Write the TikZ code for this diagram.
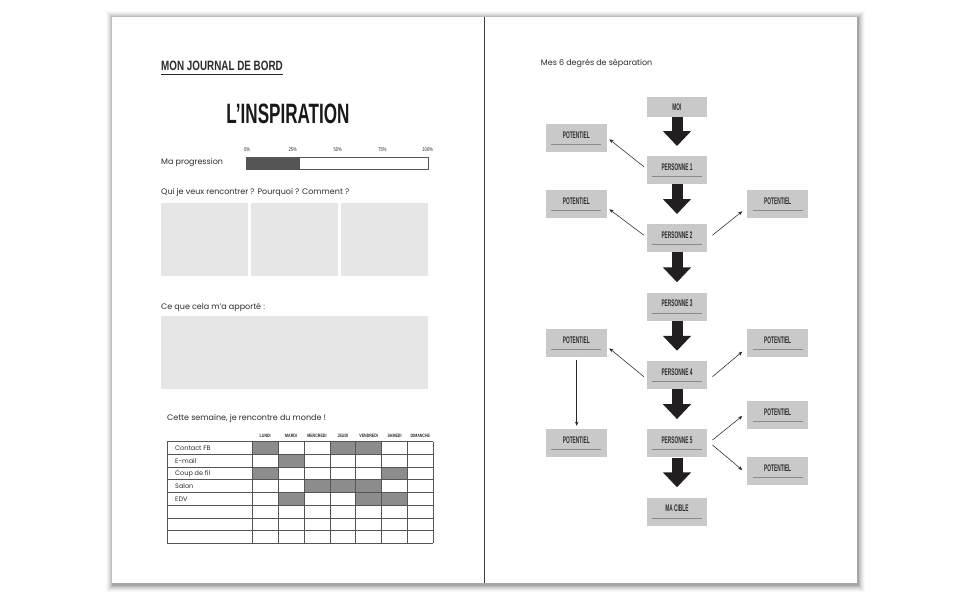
\documentclass[tikz,border=0pt]{standalone}
\usepackage{fontspec}
\setmainfont{Poppins}
\newfontfamily\condTitle[FakeStretch=0.73]{Liberation Sans}
\newfontfamily\condBig[FakeStretch=0.61]{Liberation Sans}
\newfontfamily\condBox[FakeStretch=0.5]{Liberation Sans}
\newfontfamily\condSmall[FakeStretch=0.75]{Liberation Sans}
\usetikzlibrary{arrows.meta,calc}
\definecolor{ink}{HTML}{2B2B2B}
\definecolor{panel}{HTML}{E6E6E6}
\definecolor{boxgray}{HTML}{C9C9C9}
\definecolor{ulgray}{HTML}{8A8A8A}
\definecolor{cellgray}{HTML}{8C8C8C}
\definecolor{linegray}{HTML}{555555}
\definecolor{arrowblack}{HTML}{231F20}
\tikzset{
  body/.style={inner sep=0pt, text=ink, font=\fontsize{8}{9.5}\selectfont},
  pct/.style={inner sep=0pt, text=ink, font=\condSmall\fontsize{5.5}{6}\selectfont},
  dayhead/.style={inner sep=0pt, text=ink, font=\condSmall\bfseries\fontsize{4.8}{5}\selectfont},
  rowlab/.style={inner sep=0pt, text=ink, anchor=west, font=\fontsize{6.5}{7}\selectfont},
  gbox/.style={rectangle, fill=boxgray, minimum width=60.5pt, minimum height=28pt, inner sep=0pt},
  gtext/.style={inner sep=0pt, text=ink, font=\condBox\bfseries\fontsize{9.6}{9.6}\selectfont},
  gline/.style={draw=ulgray, line width=0.9pt},
  bigarrow/.style={draw=arrowblack, line width=11pt, -{Triangle[width=27.4pt,length=15pt]}},
  thinarrow/.style={draw=black!85, line width=0.55pt, -{Stealth[length=4.2pt,width=3.4pt]}},
}
\newcommand\gboxnode[4]{%
  \node[gbox] (#1) at (#2,#3) {};
  \node[gtext] (#1-t) at ($(#1.north)+(0,11.3)$) {#4};
  \draw[gline] ($(#1.north west)+(5.5,20.7)$) -- ($(#1.north east)+(-5.5,20.7)$);
}
\begin{document}
\begin{tikzpicture}[x=1pt,y=-1pt]
\useasboundingbox (0,0) rectangle (970,600);
\fill[white] (0,0) rectangle (970,600);
% page shadow
\foreach \i/\o in {7/0.025,6/0.03,5/0.04,4/0.05,3/0.06,2/0.08,1/0.12} {
  \fill[black,opacity=\o] (112-\i+0.5,17-\i+1) rectangle (857+\i+0.8,583+\i+1.8);
}
\fill[white] (112,17) rectangle (857,583);
\coordinate (divtop) at (484,17);
\coordinate (divbot) at (484,583);
\draw[draw=black!75, line width=1pt] (divtop) -- (divbot);

% ---------------- left page
\node[inner sep=0pt, anchor=base west, text=ink, font=\condTitle\bfseries\fontsize{13.5}{14}\selectfont] (journal) at (161,70.7) {MON JOURNAL DE BORD};
\draw[draw=ink, line width=1.1pt] ($(journal.south west)+(0,3.2)$) -- ($(journal.south east)+(0,3.2)$);
\node[inner sep=0pt, anchor=base, text=black!90, font=\condBig\bfseries\fontsize{28}{30}\selectfont] (insp) at (288,123.3) {L’INSPIRATION};

\node[body, anchor=base west] (prog) at (161,164) {Ma progression};
\node[inner sep=0pt, fill=linegray, minimum width=54pt, minimum height=12.3pt, anchor=north west] (progfill) at (246,156.7) {};
\node[inner sep=0pt, draw=linegray, line width=0.8pt, minimum width=181.7pt, minimum height=12.3pt, anchor=north west] (progbar) at (246,156.7) {};
\foreach \p/\x in {0/247,25/292.7,50/337.7,75/382.4,100/427.7} {
  \node[pct, anchor=base] (pct\p) at (\x,151.2) {\p\%};
}

\node[body, anchor=base west] (qui) at (161,194.7) {Qui je veux rencontrer ? Pourquoi ? Comment ?};
\node[fill=panel, inner sep=0pt, minimum width=86.7pt, minimum height=73pt, anchor=north west] (panA) at (161,202.7) {};
\node[fill=panel, inner sep=0pt, minimum width=86.7pt, minimum height=73pt, anchor=north west] (panB) at (251,202.7) {};
\node[fill=panel, inner sep=0pt, minimum width=87pt, minimum height=73pt, anchor=north west] (panC) at (340.7,202.7) {};

\node[body, anchor=base west] (apport) at (161,309.3) {Ce que cela m’a apporté :};
\node[fill=panel, inner sep=0pt, minimum width=266.7pt, minimum height=73.3pt, anchor=north west] (panD) at (161,315.7) {};

\node[body, anchor=base west] (semaine) at (167,420) {Cette semaine, je rencontre du monde !};

% table
\def\rowtop{441.7}
\def\rowh{12.7}
% filled cells: column index (1..7) / row index (0..4)
\foreach \c/\r in {1/0,4/0,5/0,2/1,1/2,6/2,3/3,4/3,5/3,2/4,5/4,6/4} {
  \fill[cellgray] ({252.3+(\c-1)*25.857},{\rowtop+\r*\rowh}) rectangle ({252.3+\c*25.857},{\rowtop+(\r+1)*\rowh});
}
\foreach \k in {0,...,8} {
  \draw[draw=linegray, line width=0.7pt] (167.3,{\rowtop+\k*\rowh}) -- (433.3,{\rowtop+\k*\rowh});
}
\draw[draw=linegray, line width=0.7pt] (167.3,\rowtop) -- (167.3,{\rowtop+8*\rowh});
\foreach \c in {0,...,7} {
  \draw[draw=linegray, line width=0.7pt] ({252.3+\c*25.857},\rowtop) -- ({252.3+\c*25.857},{\rowtop+8*\rowh});
}
\foreach \d [count=\c] in {LUNDI,MARDI,MERCREDI,JEUDI,VENDREDI,SAMEDI,DIMANCHE} {
  \node[dayhead, anchor=base] (day\c) at ({252.3+(\c-0.5)*25.857},437.3) {\d};
}
\foreach \t [count=\r] in {Contact FB,E-mail,Coup de fil,Salon,EDV} {
  \node[rowlab] (row\r) at (175,{\rowtop+(\r-0.5)*\rowh}) {\t};
}

% ---------------- right page
\node[body, anchor=base west] (degres) at (540.7,65.3) {Mes 6 degrés de séparation};

\node[gbox, minimum height=20pt] (moi) at (677,106.7) {};
\node[gtext] (moi-t) at (moi.center) {MOI};

\gboxnode{p1}{677}{169.7}{PERSONNE 1}
\gboxnode{p2}{677}{238.2}{PERSONNE 2}
\gboxnode{p3}{677}{306.5}{PERSONNE 3}
\gboxnode{p4}{677}{375}{PERSONNE 4}
\gboxnode{p5}{677}{443.3}{PERSONNE 5}
\gboxnode{cible}{677}{511.5}{MA CIBLE}

\gboxnode{potL1}{576.3}{138.3}{POTENTIEL}
\gboxnode{potL2}{576.3}{203.8}{POTENTIEL}
\gboxnode{potR2}{777.7}{203.8}{POTENTIEL}
\gboxnode{potL4}{576.3}{342.9}{POTENTIEL}
\gboxnode{potR4}{777.7}{342.9}{POTENTIEL}
\gboxnode{potL5}{576.3}{443.3}{POTENTIEL}
\gboxnode{potR5a}{777.7}{415.2}{POTENTIEL}
\gboxnode{potR5b}{777.7}{471.2}{POTENTIEL}

% big arrows
\draw[bigarrow] (moi.south) -- ($(p1.north)+(0,-9.5)$);
\draw[bigarrow] (p1.south) -- ($(p2.north)+(0,-10)$);
\draw[bigarrow] (p2.south) -- ($(p3.north)+(0,-10)$);
\draw[bigarrow] (p3.south) -- ($(p4.north)+(0,-10)$);
\draw[bigarrow] (p4.south) -- ($(p5.north)+(0,-10)$);
\draw[bigarrow] (p5.south) -- ($(cible.north)+(0,-10)$);

% thin arrows
\draw[thinarrow] ($(p1.west)+(-2.7,-3)$) -- ($(potL1.east)+(2.6,1)$);
\draw[thinarrow] ($(p2.west)+(-2.7,-3)$) -- ($(potL2.east)+(2.6,5.5)$);
\draw[thinarrow] ($(p2.east)+(5,-3)$) -- ($(potR2.west)+(-5,7.5)$);
\draw[thinarrow] ($(p4.west)+(-2.7,1.7)$) -- ($(potL4.east)+(2.6,5.4)$);
\draw[thinarrow] ($(p4.east)+(5,1.7)$) -- ($(potR4.west)+(-5,8.8)$);
\draw[thinarrow] ($(potL4.south)+(0.4,2.6)$) -- ($(potL5.north)+(0.4,-3.3)$);
\draw[thinarrow] ($(p5.east)+(5,-3.3)$) -- ($(potR5a.west)+(-5,0.8)$);
\draw[thinarrow] ($(p5.east)+(5,1.7)$) -- ($(potR5b.west)+(-5,-1.2)$);
\end{tikzpicture}
\end{document}
